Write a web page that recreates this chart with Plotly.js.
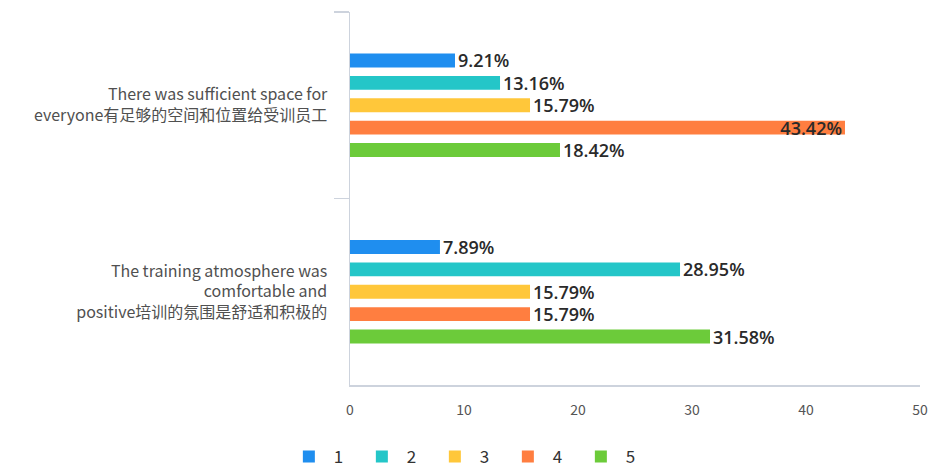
<!DOCTYPE html>
<html>
<head>
<meta charset="utf-8">
<script src="https://cdn.plot.ly/plotly-3.0.1.min.js"></script>
<style>html,body{margin:0;padding:0;background:#fff;}#chart{width:929px;height:470px;}</style>
</head>
<body>
<div id="chart"></div>
<script>
const categories = [
  "There was sufficient space for<br>everyone有足够的空间和位置给受训员工",
  "The training atmosphere was<br>comfortable and<br>positive培训的氛围是舒适和积极的"
];
const seriesNames = ["1", "2", "3", "4", "5"];
const s1 = [9.21, 7.89];
const s2 = [13.16, 28.95];
const s3 = [15.79, 15.79];
const s4 = [43.42, 15.79];
const s5 = [18.42, 31.58];
const xTicks = [0, 10, 20, 30, 40, 50];

const colors = ["#1f8eef", "#24c6c8", "#ffc73a", "#ff7e40", "#6ccb3a"];
const seriesValues = [s1, s2, s3, s4, s5];
const labelFont = {family: "Open Sans, Noto Sans, sans-serif", size: 18, weight: 600, color: "#2a2a2a"};

const traces = seriesValues.map((vals, i) => ({
  type: "bar",
  orientation: "h",
  name: seriesNames[i],
  y: categories,
  x: vals,
  text: vals.map(v => v.toFixed(2) + "%"),
  textposition: vals.map(v => (v > 40 ? "inside" : "outside")),
  insidetextanchor: "end",
  constraintext: "none",
  cliponaxis: false,
  textfont: labelFont,
  insidetextfont: labelFont,
  outsidetextfont: labelFont,
  marker: {color: colors[i], line: {width: 0}},
  hoverinfo: "x+name"
}));

const layout = {
  width: 929,
  height: 470,
  margin: {l: 350, r: 9, t: 12, b: 85},
  paper_bgcolor: "#fff",
  plot_bgcolor: "#fff",
  barmode: "group",
  bargap: 0.4,
  bargroupgap: 0.38,
  font: {family: "Noto Sans CJK SC, Noto Sans, sans-serif", color: "#555"},
  xaxis: {
    range: [0, 50],
    tickvals: xTicks,
    ticktext: xTicks.map(String),
    showgrid: false,
    zeroline: false,
    showline: true,
    linecolor: "#cdd3dd",
    linewidth: 1.5,
    ticks: "outside",
    ticklen: 12,
    tickcolor: "rgba(0,0,0,0)",
    ticklabeloverflow: "allow",
    tickfont: {size: 14, color: "#555"}
  },
  yaxis: {
    type: "category",
    range: [1.5, -0.5],
    tickson: "boundaries",
    ticks: "outside",
    ticklen: 15,
    tickcolor: "#cdd3dd",
    tickwidth: 1.5,
    ticklabelstandoff: 18,
    showline: true,
    linecolor: "#cdd3dd",
    linewidth: 1.5,
    showgrid: false,
    zeroline: false,
    tickfont: {size: 16, color: "#505050"}
  },
  showlegend: true,
  legend: {
    orientation: "h",
    x: 0.502,
    xref: "container",
    xanchor: "center",
    y: 0.028,
    yref: "container",
    yanchor: "middle",
    font: {size: 17, color: "#333"},
    itemwidth: 40,
    entrywidth: 18,
    traceorder: "normal"
  }
};

Plotly.newPlot("chart", traces, layout, {displayModeBar: false, staticPlot: true});
</script>
</body>
</html>
